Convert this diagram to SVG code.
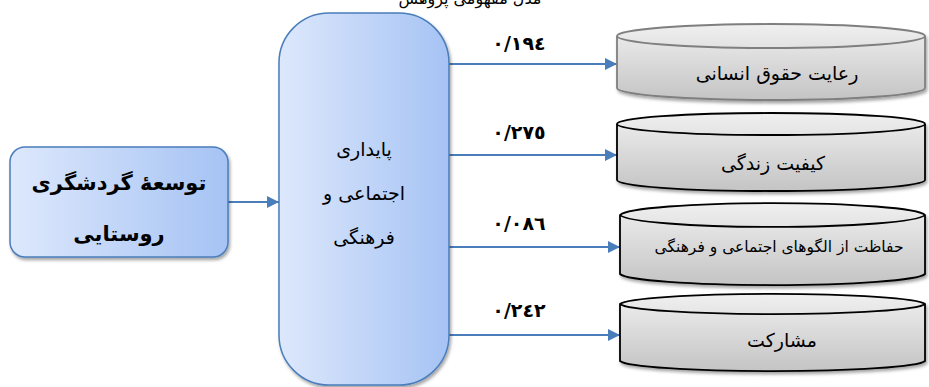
<svg xmlns="http://www.w3.org/2000/svg" width="929" height="387" viewBox="0 0 929 387">
<style>
.fa{font-family:"DejaVu Sans","Noto Sans",sans-serif;direction:rtl;text-anchor:middle;fill:#000}
.num{font-family:"DejaVu Sans",sans-serif;font-weight:bold;font-size:19px;letter-spacing:3px;text-anchor:middle;fill:#000}
.blue{fill:url(#gBlue);stroke:#4a7ebb;stroke-width:1.5;filter:url(#sh)}
.cyl{fill:url(#gGray);stroke-width:1.8;filter:url(#sh)}
.conn{stroke:#4a7ebb;stroke-width:2.2;fill:none;marker-end:url(#arr)}
</style>
<defs>
<linearGradient id="gBlue" x1="0" y1="0" x2="1" y2="0">
<stop offset="0" stop-color="#dde8fc"/>
<stop offset="1" stop-color="#a6c3f4"/>
</linearGradient>
<linearGradient id="gGray" x1="0" y1="0" x2="0" y2="1">
<stop offset="0" stop-color="#f0f0f0"/>
<stop offset="1" stop-color="#c4c4c4"/>
</linearGradient>
<filter id="sh" x="-10%" y="-10%" width="130%" height="130%">
<feDropShadow dx="1.5" dy="2.5" stdDeviation="1.5" flood-color="#000" flood-opacity="0.35"/>
</filter>
<marker id="arr" markerWidth="13" markerHeight="13" refX="12" refY="6" orient="auto" markerUnits="userSpaceOnUse">
<path d="M0,0 L12,6 L0,12 Z" fill="#4a7ebb"/>
</marker>
</defs>
<text class="fa" x="470" y="4" font-size="16">مدل مفهومی پژوهش</text>
<g id="connectors">
<line class="conn" x1="228" y1="202" x2="279" y2="202"/>
<line class="conn" x1="449" y1="64" x2="617" y2="64"/>
<line class="conn" x1="449" y1="155" x2="617" y2="155"/>
<line class="conn" x1="449" y1="247" x2="620" y2="247"/>
<line class="conn" x1="449" y1="335" x2="620" y2="335"/>
<text class="num" x="519" y="50">٠/١٩٤</text>
<text class="num" x="519" y="139">٠/٢٧٥</text>
<text class="num" x="519" y="230">٠/٠٨٦</text>
<text class="num" x="519" y="317">٠/٢٤٢</text>
</g>
<g id="node-tourism">
<rect class="blue" x="10" y="147" width="218" height="110" rx="15"/>
<text class="fa" x="119" y="190" font-size="21" font-weight="bold">توسعهٔ گردشگری</text>
<text class="fa" x="119" y="241" font-size="21" font-weight="bold">روستایی</text>
</g>
<g id="node-sustainability">
<rect class="blue" x="279" y="13" width="170" height="372" rx="50"/>
<text class="fa" x="364" y="156" font-size="19">پایداری</text>
<text class="fa" x="364" y="200" font-size="19">اجتماعی و</text>
<text class="fa" x="364" y="244" font-size="19">فرهنگی</text>
</g>
<g id="node-human-rights">
<path class="cyl" stroke="#7f7f7f" d="M617,36 A154,12 0 0 1 925,36 L925,88 A154,12 0 0 1 617,88 Z"/>
<path fill="none" stroke="#7f7f7f" stroke-width="1.8" d="M617,36 A154,12 0 0 0 925,36"/>
<text class="fa" x="777" y="80" font-size="19">رعایت حقوق انسانی</text>
</g>
<g id="node-quality">
<path class="cyl" stroke="#000" d="M617,124 A154,11 0 0 1 925,124 L925,180 A154,11 0 0 1 617,180 Z"/>
<path fill="none" stroke="#000" stroke-width="1.8" d="M617,124 A154,11 0 0 0 925,124"/>
<text class="fa" x="773" y="170" font-size="19">کیفیت زندگی</text>
</g>
<g id="node-patterns">
<path class="cyl" stroke="#000" d="M620,215 A153,13 0 0 1 925,215 L925,274 A153,12 0 0 1 620,274 Z"/>
<path fill="none" stroke="#000" stroke-width="1.8" d="M620,215 A153,13 0 0 0 925,215"/>
<text class="fa" x="779" y="252" font-size="15.5">حفاظت از الگوهای اجتماعی و فرهنگی</text>
</g>
<g id="node-participation">
<path class="cyl" stroke="#000" d="M620,304 A153,11 0 0 1 925,304 L925,361 A153,11 0 0 1 620,361 Z"/>
<path fill="none" stroke="#000" stroke-width="1.8" d="M620,304 A153,11 0 0 0 925,304"/>
<text class="fa" x="782" y="347" font-size="19">مشارکت</text>
</g>
</svg>
